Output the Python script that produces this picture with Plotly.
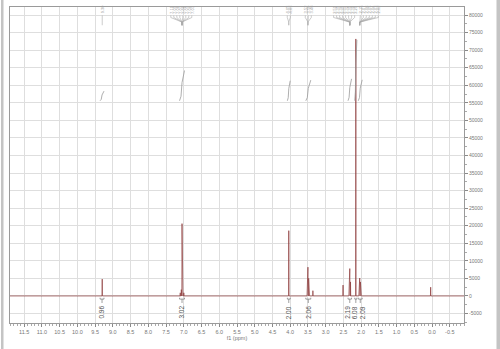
import plotly.graph_objects as go

# ---------------- data ----------------
# spectrum peaks (ppm, intensity)
peak_ppm = [9.30, 7.10, 7.07, 7.05, 7.03, 7.00, 4.04, 3.52, 3.50, 3.48, 3.46, 3.36,
            2.51, 2.34, 2.32, 2.30, 2.15, 2.06, 2.04, 2.02, 2.00, 0.04]
peak_height = [4800, 900, 1800, 20600, 1800, 900, 18600, 4500, 8200, 5000, 2500, 1500,
               3100, 4500, 7800, 4000, 73200, 3000, 5100, 4000, 2000, 2500]

# integrals: region start/end (ppm) and value
int_start = [9.36, 7.12, 4.08, 3.56, 2.37, 2.18, 2.08]
int_end = [9.25, 6.98, 4.00, 3.42, 2.27, 2.12, 1.97]
int_value = [0.96, 3.02, 2.00, 2.06, 2.19, 6.08, 2.09]
int_label = ["0.96", "3.02", "2.00", "2.06", "2.19", "6.08", "2.09"]
int_label_shift = [0, 0, 0, 0, -2.5, -1, 2.5]

# peak-picking label groups: texts and the peak they point to
pick_texts = [
    ["9.30"],
    ["7.10", "7.09", "7.08", "7.07", "7.06", "7.05", "7.04", "7.03"],
    ["4.05", "4.03"],
    ["3.52", "3.50", "3.48"],
    ["2.51", "2.35", "2.34", "2.33", "2.32", "2.31", "2.30", "2.29"],
    ["2.15", "2.07", "2.06", "2.05", "2.04", "2.03", "2.02"],
]
pick_target = [9.30, 7.05, 4.04, 3.50, 2.32, 2.04]
pick_center = [9.30, 7.07, 4.04, 3.49, 2.48, 1.77]

x_tick_vals = [11.5, 11.0, 10.5, 10.0, 9.5, 9.0, 8.5, 8.0, 7.5, 7.0, 6.5, 6.0, 5.5, 5.0,
               4.5, 4.0, 3.5, 3.0, 2.5, 2.0, 1.5, 1.0, 0.5, 0.0, -0.5]
x_tick_text = ["11.5", "11.0", "10.5", "10.0", "9.5", "9.0", "8.5", "8.0", "7.5", "7.0",
               "6.5", "6.0", "5.5", "5.0", "4.5", "4.0", "3.5", "3.0", "2.5", "2.0",
               "1.5", "1.0", "0.5", "0.0", "-0.5"]
y_tick_vals = [80000, 75000, 70000, 65000, 60000, 55000, 50000, 45000, 40000, 35000,
               30000, 25000, 20000, 15000, 10000, 5000, 0, -5000]
y_tick_text = ["80000", "75000", "70000", "65000", "60000", "55000", "50000", "45000",
               "40000", "35000", "30000", "25000", "20000", "15000", "10000", "5000",
               "0", "-5000"]

X_RANGE = [11.9, -0.9]
Y_RANGE = [-7700, 82300]
PPM_PER_PX = 1 / 35.5
INT_BASE = 55600
INT_SCALE = 2850

# ---------------- build traces ----------------
fig = go.Figure()

# spectrum as narrow line peaks over a flat baseline
w = 0.006
sx, sy = [X_RANGE[0]], [0]
for p, h in sorted(zip(peak_ppm, peak_height), key=lambda t: -t[0]):
    sx += [p + w, p, p - w]
    sy += [0, h, 0]
sx.append(X_RANGE[1])
sy.append(0)
fig.add_trace(go.Scatter(x=sx, y=sy, mode="lines",
                         line=dict(color="#8c3a3a", width=0.7),
                         hoverinfo="skip", showlegend=False))

# integral curves
ix, iy = [], []
for s, e, v in zip(int_start, int_end, int_value):
    m = (s + e) / 2
    ix += [s, s - (s - e) * 0.3, m, e, None]
    iy += [INT_BASE, INT_BASE + v * INT_SCALE * 0.15, INT_BASE + v * INT_SCALE * 0.6,
           INT_BASE + v * INT_SCALE, None]
fig.add_trace(go.Scatter(x=ix, y=iy, mode="lines",
                         line=dict(color="#9a9a9a", width=0.8),
                         hoverinfo="skip", showlegend=False))

# integration brackets below baseline
bx, by = [], []
for s, e in zip(int_start, int_end):
    m = (s + e) / 2
    bx += [s, s, e, e, None, m, m, None]
    by += [-500, -900, -900, -500, None, -900, -2000, None]
fig.add_trace(go.Scatter(x=bx, y=by, mode="lines",
                         line=dict(color="#777777", width=0.7),
                         hoverinfo="skip", showlegend=False))

annotations = []
for s, e, t, sh in zip(int_start, int_end, int_label, int_label_shift):
    annotations.append(dict(x=(s + e) / 2, y=-2300, xref="x", yref="y", text=t,
                            showarrow=False, textangle=-90, yanchor="top",
                            xshift=sh,
                            font=dict(size=6.5, color="#555555",
                                      family="Liberation Sans")))

# peak-picking labels with fan lines
px_, py_ = [], []
sp = 3 * PPM_PER_PX
for texts, tgt, cen in zip(pick_texts, pick_target, pick_center):
    n = len(texts)
    for i, t in enumerate(texts):
        lx = cen + ((n - 1) / 2 - i) * sp
        annotations.append(dict(x=lx, y=81700, xref="x", yref="y", text=t,
                                showarrow=False, textangle=-90,
                                font=dict(size=4, color="#9a9a9a",
                                          family="Liberation Sans")))
        px_ += [lx, lx, tgt, tgt, None]
        py_ += [79900, 79300, 78000, 77100, None]
fig.add_trace(go.Scatter(x=px_, y=py_, mode="lines",
                         line=dict(color="#a8a8a8", width=0.6),
                         hoverinfo="skip", showlegend=False))

# ---------------- layout ----------------
L, R, T, B = 10, 36, 7, 26
W, H = 500, 349
pw, ph = W - L - R, H - T - B

def xp(px):
    return (px - L) / pw

def yp(py):
    return (H - B - py) / ph

shapes = [
    dict(type="rect", xref="paper", yref="paper", x0=xp(1), x1=xp(3.5),
         y0=yp(H), y1=yp(0), fillcolor="#c4c4c4", line=dict(width=0)),
    dict(type="rect", xref="paper", yref="paper", x0=xp(496.5), x1=xp(500),
         y0=yp(H), y1=yp(0), fillcolor="#c4c4c4", line=dict(width=0)),
]

fig.update_layout(
    width=W, height=H,
    margin=dict(l=L, r=R, t=T, b=B, pad=0),
    paper_bgcolor="white", plot_bgcolor="white",
    showlegend=False,
    annotations=annotations,
    shapes=shapes,
    xaxis=dict(range=X_RANGE, tickvals=x_tick_vals, ticktext=x_tick_text,
               showgrid=True, gridcolor="#dedede", gridwidth=1,
               zeroline=False, showline=True, linecolor="#9a9a9a", linewidth=1,
               mirror=True, ticks="outside", ticklen=3, tickcolor="#8a8a8a",
               minor=dict(dtick=0.1, ticks="outside", ticklen=1.5,
                          tickcolor="#aaaaaa", showgrid=False),
               tickfont=dict(size=5.5, color="#777777", family="Liberation Sans"),
               title=dict(text="f1 (ppm)", standoff=1,
                          font=dict(size=5.5, color="#777777",
                                    family="Liberation Sans"))),
    yaxis=dict(range=Y_RANGE, side="right", tickvals=y_tick_vals,
               ticktext=y_tick_text,
               showgrid=True, gridcolor="#dedede", gridwidth=1,
               zeroline=False, showline=True, linecolor="#9a9a9a", linewidth=1,
               mirror=True, ticks="outside", ticklen=3, tickcolor="#8a8a8a",
               minor=dict(dtick=2500, ticks="outside", ticklen=1.5,
                          tickcolor="#aaaaaa", showgrid=False),
               tickfont=dict(size=5, color="#777777", family="Liberation Sans")),
)

fig.write_html("out.html")
